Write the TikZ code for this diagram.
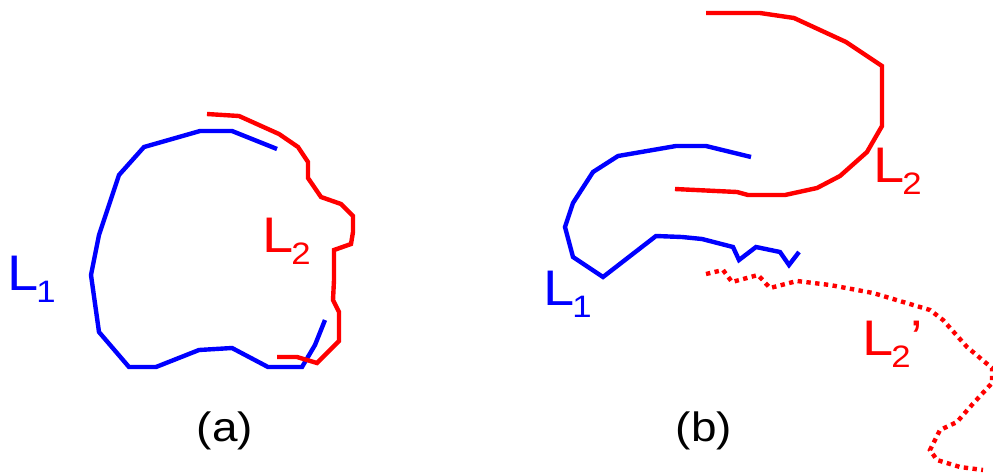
\documentclass[tikz,border=0pt]{standalone}
\usepackage{fontspec}
\setmainfont{Liberation Sans}
\newfontfamily\labelfont[FakeStretch=1.12]{Liberation Sans}
\usepackage{tikz}
\usetikzlibrary{positioning}

\newcommand{\curvename}[2]{L\kern-2pt\raisebox{-12pt}{\fontsize{31}{31}\selectfont #1}#2}

\begin{document}
\begin{tikzpicture}[x=1pt, y=-1pt,
				loopline/.style={draw=blue, line width=4.4pt},
				cutline/.style={draw=red, line width=4.4pt},
				shiftline/.style={draw=red, line width=4.4pt, dash pattern=on 4.4pt off 4.4pt},
				bluelabel/.style={text=blue, anchor=base west, inner sep=0pt, font=\labelfont\fontsize{50}{50}\selectfont},
				redlabel/.style={bluelabel, text=red},
				caption/.style={anchor=base, inner sep=0pt, font=\labelfont\fontsize{41}{41}\selectfont}]
				\useasboundingbox (0,0) rectangle (993,472);
				
				% (a)
				\draw[loopline] (277,149) -- (232,131) -- (200,131) -- (144,147) -- (119,175) -- (99,235) -- (91,275) -- (99,332) -- (129,367) -- (156,367) -- (199,350) -- (232,348) -- (268,367) -- (302,367) -- (315,345) -- (325,320);
				\draw[cutline] (207,114) -- (239,116) -- (279,134) -- (298,147) -- (308,162) -- (308,178) -- (321,197) -- (341,204) -- (353,216) -- (353,232) -- (351,244) -- (334,250) -- (334,280) -- (333,300) -- (339,312) -- (339,341) -- (317,363) -- (297,357) -- (277,357);
				\node[bluelabel](la1) at (7,290) {\curvename{1}{}};
				\node[redlabel](la2) at (262,252) {\curvename{2}{}};
				\node[caption](capa) at (225,441) {(a)};
				
				% (b)
				\draw[loopline] (751,157) -- (706,146) -- (676,146) -- (618,156) -- (593,172) -- (573,203) -- (565,227) -- (573,257) -- (603,277) -- (656,236) -- (682,237) -- (702,239) -- (733,247) -- (739,260) -- (756,247) -- (780,252) -- (789,265) -- (799,252);
				\draw[cutline] (706,13) -- (760,13) -- (794,18) -- (846,42) -- (882,66) -- (882,126) -- (867,152) -- (840,176) -- (817,188) -- (785,195) -- (748,195) -- (737,192) -- (675,189);
				\draw[shiftline] (706,274) -- (723,270) -- (732,282) -- (758,275) -- (770,288) -- (797,281) -- (830,285) -- (873,293) -- (930,310) -- (943,320) -- (967,347) -- (992,368) -- (992,383) -- (970,407) -- (957,422) -- (940,430) -- (930,450) -- (937,460) -- (960,467) -- (983,470);
				\node[bluelabel](lb1) at (543,305) {\curvename{1}{}};
				\node[redlabel](lb2) at (873,182) {\curvename{2}{}};
				\node[redlabel](lb3) at (862,355) {\curvename{2}{’}};
				\node[caption](capb) at (704,441) {(b)};
			\end{tikzpicture}
\end{document}
